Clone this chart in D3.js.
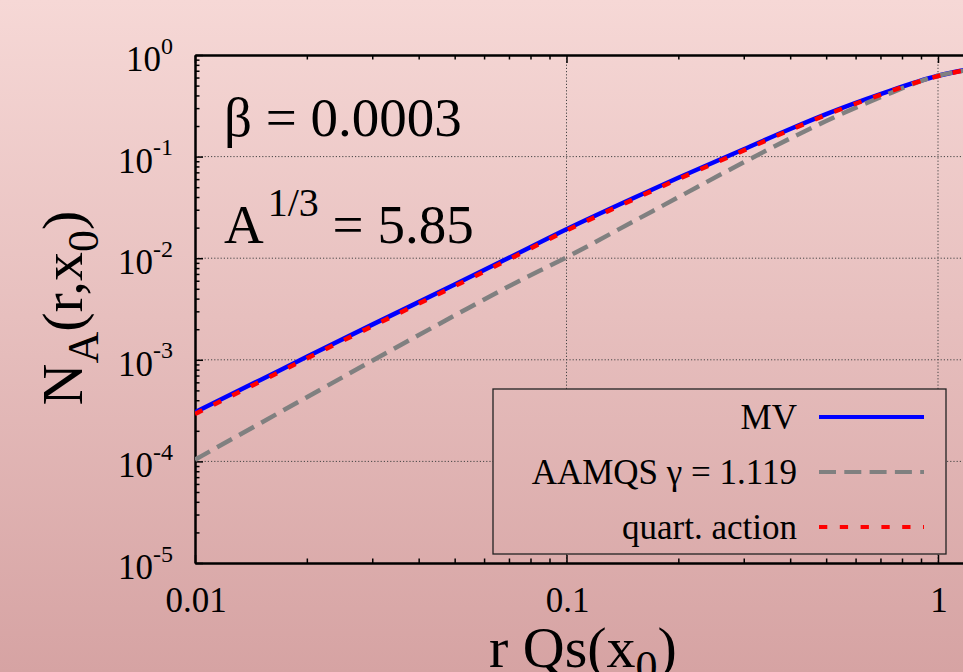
<!DOCTYPE html>
<html><head><meta charset="utf-8">
<script src="https://cdn.jsdelivr.net/npm/d3@7"></script>
<style>body{margin:0;background:#fff;} svg{display:block;} svg text{font-family:"Liberation Serif","Times New Roman",Times,"DejaVu Serif",serif;}</style>
</head><body>
<svg id="c" width="963" height="672"></svg>
<script>
// ---- data ----
const rQs   = [0.01, 0.015, 0.02, 0.03, 0.05, 0.07, 0.1, 0.15, 0.2, 0.3, 0.4, 0.5, 0.7, 1.0, 1.2];
const mv    = [3.04e-4, 6.34e-4, 1.07e-3, 2.22e-3, 5.5e-3, 0.0101, 0.0193, 0.0385, 0.0619, 0.118, 0.187, 0.262, 0.412, 0.625, 0.72];
const aamqs = [1.04e-4, 2.38e-4, 4.28e-4, 9.8e-4, 2.73e-3, 5.3e-3, 0.0102, 0.0226, 0.0398, 0.088, 0.151, 0.224, 0.384, 0.625, 0.71];
const quart = [2.93e-4, 6.12e-4, 1.033e-3, 2.14e-3, 5.31e-3, 9.75e-3, 0.0187, 0.0373, 0.0601, 0.115, 0.183, 0.257, 0.406, 0.62, 0.716];
const xTickValues = [0.01, 0.1, 1];
const xTickLabels = ["0.01", "0.1", "1"];
const yTickExponents = [0, -1, -2, -3, -4, -5];
const legendLabels = ["MV", "AAMQS \u03b3 = 1.119", "quart. action"];

const W = 963, H = 672;
const svg = d3.select("#c");
const defs = svg.append("defs");
const grad = defs.append("linearGradient").attr("id", "bg")
  .attr("gradientUnits", "userSpaceOnUse").attr("x1", 0).attr("y1", 0).attr("x2", 0).attr("y2", H);
grad.append("stop").attr("offset", 0).attr("stop-color", "#f6d8d6");
grad.append("stop").attr("offset", 1).attr("stop-color", "#d6a3a3");
svg.append("rect").attr("width", W).attr("height", H).attr("fill", "url(#bg)");

const L = 195, T = 55, B = 563;
const x = d3.scaleLog().domain([0.01, 2]).range([L, L + 371.5 * Math.log10(200)]);
const y = d3.scaleLog().domain([1e-5, 1]).range([B, T]);

defs.append("clipPath").attr("id", "plot").append("rect")
  .attr("x", L).attr("y", T).attr("width", W - L).attr("height", B - T);

// minor tick values
const xMinor = [];
[0.01, 0.1, 1].forEach(d => { for (let k = 2; k <= 9; k++) { const v = d * k; if (v <= 2) xMinor.push(v); } });
const yMinor = [];
for (let e = -5; e < 0; e++) for (let k = 2; k <= 9; k++) yMinor.push(k * Math.pow(10, e));
const yMajor = yTickExponents.map(e => Math.pow(10, e));

// grid
const grid = svg.append("g").attr("stroke", "#444").attr("stroke-width", 1).attr("stroke-dasharray", "1.2,2");
grid.selectAll("line.h").data(yMajor.filter(v => v < 1 && v > 1e-5)).join("line")
  .attr("x1", L).attr("x2", W).attr("y1", d => y(d)).attr("y2", d => y(d));
grid.selectAll("line.v").data([0.1, 1]).join("line")
  .attr("y1", T).attr("y2", B).attr("x1", d => x(d)).attr("x2", d => x(d));

// axes
function styleAxis(g) {
  g.selectAll(".tick line").attr("stroke", "#000").attr("stroke-width", 1.5);
  g.selectAll("text").remove();
  g.select(".domain").attr("stroke", "#000").attr("stroke-width", 2);
}
svg.append("g").attr("transform", `translate(0,${B})`)
  .call(d3.axisBottom(x).tickValues(xTickValues).tickSize(-8).tickSizeOuter(0).tickFormat("")).call(styleAxis);
svg.append("g").attr("transform", `translate(0,${B})`)
  .call(d3.axisBottom(x).tickValues(xMinor).tickSize(-4.5).tickSizeOuter(0).tickFormat("")).call(styleAxis);
svg.append("g").attr("transform", `translate(0,${T})`)
  .call(d3.axisTop(x).tickValues(xTickValues).tickSize(-8).tickSizeOuter(0).tickFormat("")).call(styleAxis);
svg.append("g").attr("transform", `translate(0,${T})`)
  .call(d3.axisTop(x).tickValues(xMinor).tickSize(-4.5).tickSizeOuter(0).tickFormat("")).call(styleAxis);
svg.append("g").attr("transform", `translate(${L},0)`)
  .call(d3.axisLeft(y).tickValues(yMajor).tickSize(-8).tickSizeOuter(0).tickFormat("")).call(styleAxis);
svg.append("g").attr("transform", `translate(${L},0)`)
  .call(d3.axisLeft(y).tickValues(yMinor).tickSize(-4.5).tickSizeOuter(0).tickFormat("")).call(styleAxis);

// tick labels
const yl = svg.append("g").attr("fill", "#000");
yTickExponents.forEach(e => {
  const t = yl.append("text").attr("x", 173).attr("y", y(Math.pow(10, e)) + 16)
    .attr("text-anchor", "end").attr("font-size", 35);
  t.append("tspan").text("10");
  t.append("tspan").attr("font-size", 24).attr("dy", -17.5).text(String(e));
});
const xl = svg.append("g").attr("fill", "#000");
xTickValues.forEach((v, i) => {
  xl.append("text").attr("x", x(v) + 1).attr("y", 612).attr("text-anchor", "middle")
    .attr("font-size", 35).text(xTickLabels[i]);
});

// axis titles
const yt = svg.append("text").attr("font-size", 58)
  .attr("transform", "translate(82,308) rotate(-90)").attr("text-anchor", "middle");
yt.append("tspan").text("N");
yt.append("tspan").attr("font-size", 44).attr("dy", 16).text("A");
yt.append("tspan").attr("dy", -16).text("(r,x");
yt.append("tspan").attr("font-size", 44).attr("dy", 16).text("0");
yt.append("tspan").attr("dy", -16).text(")");

const xt = svg.append("text").attr("font-size", 58)
  .attr("x", 489).attr("y", 667);
xt.append("tspan").text("r Qs(x");
xt.append("tspan").attr("font-size", 44).attr("dy", 14).text("0");
xt.append("tspan").attr("dy", -14).text(")");

// annotations
svg.append("text").attr("font-size", 55)
  .attr("x", 224).attr("y", 136).text("\u03b2 = 0.0003");
const at = svg.append("text").attr("font-size", 55)
  .attr("x", 224).attr("y", 243);
at.append("tspan").text("A");
at.append("tspan").attr("font-size", 40).attr("dy", -27).attr("dx", 4).text("1/3");
at.append("tspan").attr("dy", 27).text(" = 5.85");

// curves
const series = [
  {vals: mv, color: "#0000ff", w: 4.5, dash: null},
  {vals: aamqs, color: "#808080", w: 4.5, dash: "17,8.3"},
  {vals: quart, color: "#ff0000", w: 4.5, dash: "8.3,12.5"}
];
const line = d3.line().x(d => x(d[0])).y(d => y(d[1])).curve(d3.curveMonotoneX);
const cg = svg.append("g").attr("clip-path", "url(#plot)");
series.forEach(s => {
  cg.append("path").datum(rQs.map((r, i) => [r, s.vals[i]]))
    .attr("d", line).attr("fill", "none").attr("stroke", s.color)
    .attr("stroke-width", s.w).attr("stroke-dasharray", s.dash);
});

// legend
const lg = svg.append("g");
lg.append("rect").attr("x", 493).attr("y", 389).attr("width", 453).attr("height", 165)
  .attr("fill", "url(#bg)").attr("stroke", "#222").attr("stroke-width", 1.3);
const rowsY = [417, 472, 527];
series.forEach((s, i) => {
  lg.append("text").attr("font-size", 35).attr("text-anchor", "end")
    .attr("x", 797).attr("y", rowsY[i] + 11.5).text(legendLabels[i]);
  lg.append("line").attr("x1", 819).attr("x2", 924).attr("y1", rowsY[i]).attr("y2", rowsY[i])
    .attr("stroke", s.color).attr("stroke-width", 4).attr("stroke-dasharray", s.dash);
});
</script>
</body></html>
